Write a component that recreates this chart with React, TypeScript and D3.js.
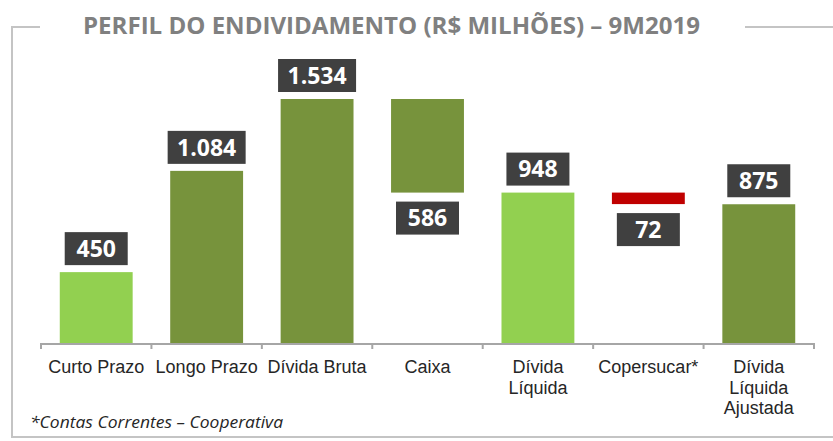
import { useEffect, useRef } from 'react'
import * as d3 from 'd3'

const categories = [
  ['Curto Prazo'],
  ['Longo Prazo'],
  ['Dívida Bruta'],
  ['Caixa'],
  ['Dívida', 'Líquida'],
  ['Copersucar*'],
  ['Dívida', 'Líquida', 'Ajustada'],
]
const values = [450, 1084, 1534, 586, 948, 72, 875]
const labels = ['450', '1.084', '1.534', '586', '948', '72', '875']
// total = bar from zero, decrease = floating bar hanging from the previous total
const kinds = ['total', 'total', 'total', 'decrease', 'total', 'decrease', 'total']
const fills = ['#92d050', '#77933c', '#77933c', '#77933c', '#92d050', '#c00000', '#77933c']

const W = 833
const H = 441

export default function App() {
  const svgRef = useRef<SVGSVGElement | null>(null)

  useEffect(() => {
    if (!svgRef.current) return
    const svg = d3.select(svgRef.current)
    svg.selectAll('*').remove()

    // frame round the chart
    const frame = svg.append('g').attr('stroke', '#c4c4c4').attr('stroke-width', 2).attr('fill', 'none')
    frame.append('path').attr('d', 'M40,27 H12 V437 H833')
    frame.append('path').attr('d', 'M745,27 H833')

    svg.append('text')
      .attr('x', 83)
      .attr('y', 34)
      .attr('textLength', 617)
      .attr('lengthAdjust', 'spacingAndGlyphs')
      .attr('fill', '#808080')
      .attr('font-family', 'Open Sans, sans-serif')
      .attr('font-weight', 700)
      .attr('font-size', '23px')
      .text('PERFIL DO ENDIVIDAMENTO (R$ MILHÕES) – 9M2019')

    // waterfall extents
    let running = 0
    const bars = values.map((v, i) => {
      let lo = 0, hi = v
      if (kinds[i] === 'decrease') {
        lo = running - v
        hi = running
        running = lo
      } else {
        running = v
      }
      return { i, lo, hi, kind: kinds[i] }
    })

    const x = d3.scaleBand<number>()
      .domain(d3.range(categories.length))
      .range([41, 814])
      .paddingInner(0.34)
      .paddingOuter(0.17)
    const step = x.step()
    const y = d3.scaleLinear().domain([0, 1534]).range([344, 99])

    const g = svg.append('g')

    g.selectAll('rect.bar')
      .data(bars)
      .enter().append('rect')
      .attr('class', 'bar')
      .attr('x', d => x(d.i)!)
      .attr('width', x.bandwidth())
      .attr('y', d => y(d.hi))
      .attr('height', d => y(d.lo) - y(d.hi))
      .attr('fill', d => fills[d.i])

    // axis line with ticks between categories
    const axis = svg.append('g').attr('stroke', '#a6a6a6').attr('stroke-width', 2)
    axis.append('line').attr('x1', 40).attr('x2', 815).attr('y1', 344).attr('y2', 344)
    axis.selectAll('line.tick')
      .data(d3.range(categories.length + 1))
      .enter().append('line')
      .attr('x1', d => 41 + d * step)
      .attr('x2', d => 41 + d * step)
      .attr('y1', 344)
      .attr('y2', 349)

    // value labels in dark boxes
    const lab = g.selectAll('g.lab')
      .data(bars)
      .enter().append('g')
      .attr('class', 'lab')
      .attr('transform', d => {
        const cx = x(d.i)! + x.bandwidth() / 2
        const cy = d.kind === 'decrease' ? y(d.lo) + 9 + 16.5 : y(d.hi) - 7 - 16.5
        return `translate(${cx},${cy})`
      })
    lab.append('rect')
      .attr('x', d => (labels[d.i].length > 3 ? -39 : -31.5))
      .attr('width', d => (labels[d.i].length > 3 ? 78 : 63))
      .attr('y', -16.5)
      .attr('height', 33)
      .attr('fill', '#404040')
    lab.append('text')
      .attr('text-anchor', 'middle')
      .attr('dy', '0.36em')
      .attr('fill', '#ffffff')
      .attr('font-family', 'Open Sans, sans-serif')
      .attr('font-weight', 700)
      .attr('font-size', '23px')
      .text(d => labels[d.i])

    // category labels
    const cat = svg.selectAll('text.cat')
      .data(categories)
      .enter().append('text')
      .attr('class', 'cat')
      .attr('x', (_, i) => x(i)! + x.bandwidth() / 2)
      .attr('y', 373)
      .attr('text-anchor', 'middle')
      .attr('fill', '#262626')
      .attr('font-family', 'Liberation Sans, Arial, sans-serif')
      .attr('font-size', '18px')
    cat.selectAll('tspan')
      .data(d => d)
      .enter().append('tspan')
      .attr('x', function () { return (this.parentNode as SVGTextElement).getAttribute('x') })
      .attr('dy', (_, j) => (j === 0 ? 0 : 20.5))
      .text(d => d)

    svg.append('text')
      .attr('x', 30)
      .attr('y', 428)
      .attr('textLength', 253)
      .attr('lengthAdjust', 'spacingAndGlyphs')
      .attr('fill', '#262626')
      .attr('font-family', 'Open Sans, sans-serif')
      .attr('font-style', 'italic')
      .attr('font-size', '16px')
      .text('*Contas Correntes – Cooperativa')
  }, [])

  return (
    <svg
      ref={svgRef}
      width={W}
      height={H}
      style={{ position: 'absolute', left: 0, top: 0, background: '#ffffff' }}
    />
  )
}
